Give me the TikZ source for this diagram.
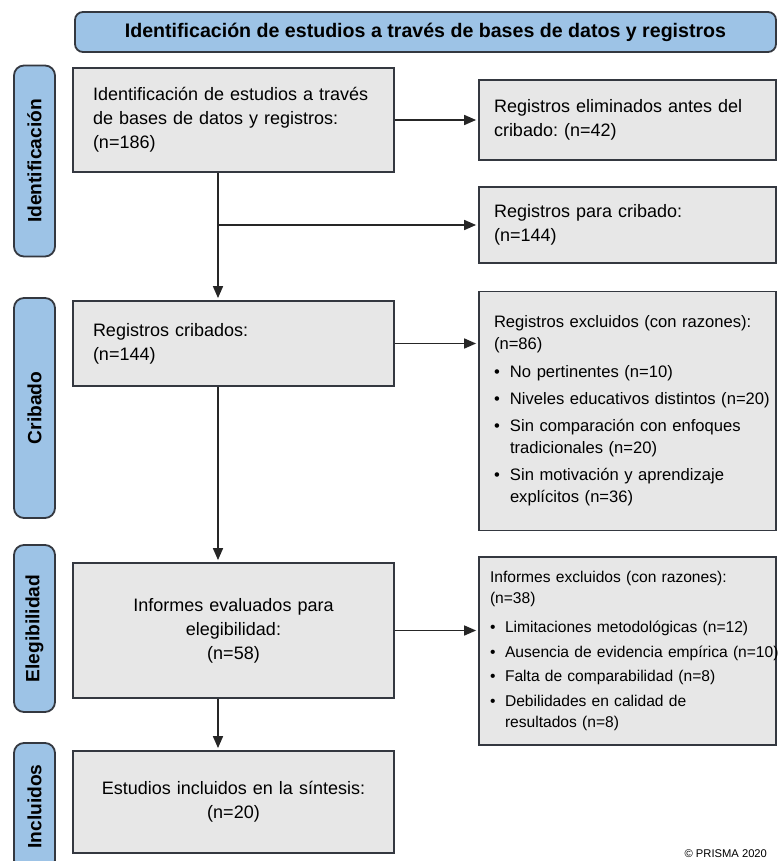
\documentclass[tikz,border=0pt]{standalone}
\usepackage{fontspec}
\setmainfont{Liberation Sans}
\usetikzlibrary{arrows.meta,positioning}

\definecolor{phase}{RGB}{157,195,230}
\definecolor{edge}{RGB}{52,56,64}
\definecolor{boxgray}{RGB}{231,231,231}

\frenchspacing
\hfuzz=20pt
\newlength{\bind}
\newcommand{\bitem}[2][0pt]{\par\vspace{#1}\hangindent=\bind\hangafter=1\noindent
  \makebox[\bind][l]{\textbullet}#2}

\begin{document}
\begin{tikzpicture}[x=0.5pt, y=-0.5pt,
  box/.style={draw=edge, fill=boxgray, line width=0.9pt, inner ysep=0pt},
  lbox/.style={box, minimum width=160.5pt, inner xsep=10pt, text width=140.5pt,
    align=left, font=\fontsize{9}{12}\selectfont},
  rbox/.style={box, minimum width=148.5pt, inner xsep=7.5pt, text width=133.5pt,
    align=left, font=\fontsize{9}{12}\selectfont},
  head/.style={draw=edge, fill=phase, line width=0.9pt, rounded corners=4pt,
    minimum width=350.5pt, minimum height=20pt, font=\bfseries\fontsize{9.8}{12}\selectfont},
  phasebar/.style={draw=edge, fill=phase, line width=0.9pt, rounded corners=5pt,
    rotate=90, minimum height=20.5pt, font=\bfseries\fontsize{9.6}{11}\selectfont},
  arr/.style={draw=black!85, line width=0.8pt, shorten >=1pt,
    -{Triangle[length=6pt,width=5pt]}}]
\path[use as bounding box, fill=white] (0,0) rectangle (777,861);
\clip (0,0) rectangle (777,861);

\node[head] (head) at (425.5,32)
  {Identificación de estudios a través de bases de datos y registros};

\node[phasebar, minimum width=95.5pt] (pid) at (34.5,161) {Identificación};
\node[phasebar, minimum width=110pt] (pcr) at (34.5,408) {Cribado};
\node[phasebar, minimum width=83.5pt] (pel) at (34.5,628.5) {Elegibilidad};
\node[phasebar, minimum width=63.5pt] (pin) at (34.5,806.5) {Incluidos};

\node[lbox, minimum height=52pt] (iden) at (233.5,120)
  {Identificación de estudios a través\\de bases de datos y registros:\\(n=186)};
\node[lbox, minimum height=42.5pt] (crib) at (233.5,343.5)
  {Registros cribados:\\(n=144)};
\node[lbox, minimum height=67.5pt, align=center] (eleg) at (233.5,630.5)
  {Informes evaluados para\\elegibilidad:\\(n=58)};
\node[lbox, minimum height=51pt, align=center] (incl) at (233.5,802)
  {Estudios incluidos en la síntesis:\\(n=20)};

\node[rbox, minimum height=40pt] (elim) at (627.5,120)
  {Registros eliminados antes del\\cribado: (n=42)};
\node[rbox, minimum height=38pt] (para) at (627.5,225)
  {Registros para cribado:\\(n=144)};
\node[rbox, minimum height=119.5pt, font=\fontsize{8.3}{11}\selectfont] (excl) at (627.5,411)
  {\setlength{\bind}{8pt}\mbox{Registros excluidos (con razones):}\\(n=86)
   \bitem[3pt]{\mbox{No pertinentes (n=10)}}
   \bitem[2.5pt]{\mbox{Niveles educativos distintos (n=20)}}
   \bitem[2.5pt]{\mbox{Sin comparación con enfoques}\newline\mbox{tradicionales (n=20)}}
   \bitem[2.5pt]{\mbox{Sin motivación y aprendizaje}\newline\mbox{explícitos (n=36)}}\par};
\node[rbox, minimum height=94pt, inner xsep=5.5pt, text width=137.5pt,
  font=\fontsize{7.8}{10.8}\selectfont] (infx) at (627.5,651)
  {\setlength{\bind}{7.5pt}\mbox{Informes excluidos (con razones):}\\(n=38)
   \bitem[3.5pt]{\mbox{Limitaciones metodológicas (n=12)}}
   \bitem[1.5pt]{\mbox{Ausencia de evidencia empírica (n=10)}}
   \bitem[1.5pt]{\mbox{Falta de comparabilidad (n=8)}}
   \bitem[1.5pt]{\mbox{Debilidades en calidad de}\newline\mbox{resultados (n=8)}}\par};

\node[anchor=base east, font=\fontsize{5.6}{7}\selectfont] (prisma) at (774,857)
  {\textcopyright{} PRISMA 2020};

\coordinate (spine) at (218,0);
\coordinate (fork) at (spine |- para);
\draw[arr] (iden) -- (elim);
\draw[arr] (iden.south -| spine) -- (crib.north -| spine);
\draw[arr] (fork) -- (para.west);
\draw[arr] (crib.east) -- (crib.east -| excl.west);
\draw[arr] (crib.south -| spine) -- (eleg.north -| spine);
\draw[arr] (eleg.east) -- (eleg.east -| infx.west);
\draw[arr] (eleg.south -| spine) -- (incl.north -| spine);
\end{tikzpicture}
\end{document}
